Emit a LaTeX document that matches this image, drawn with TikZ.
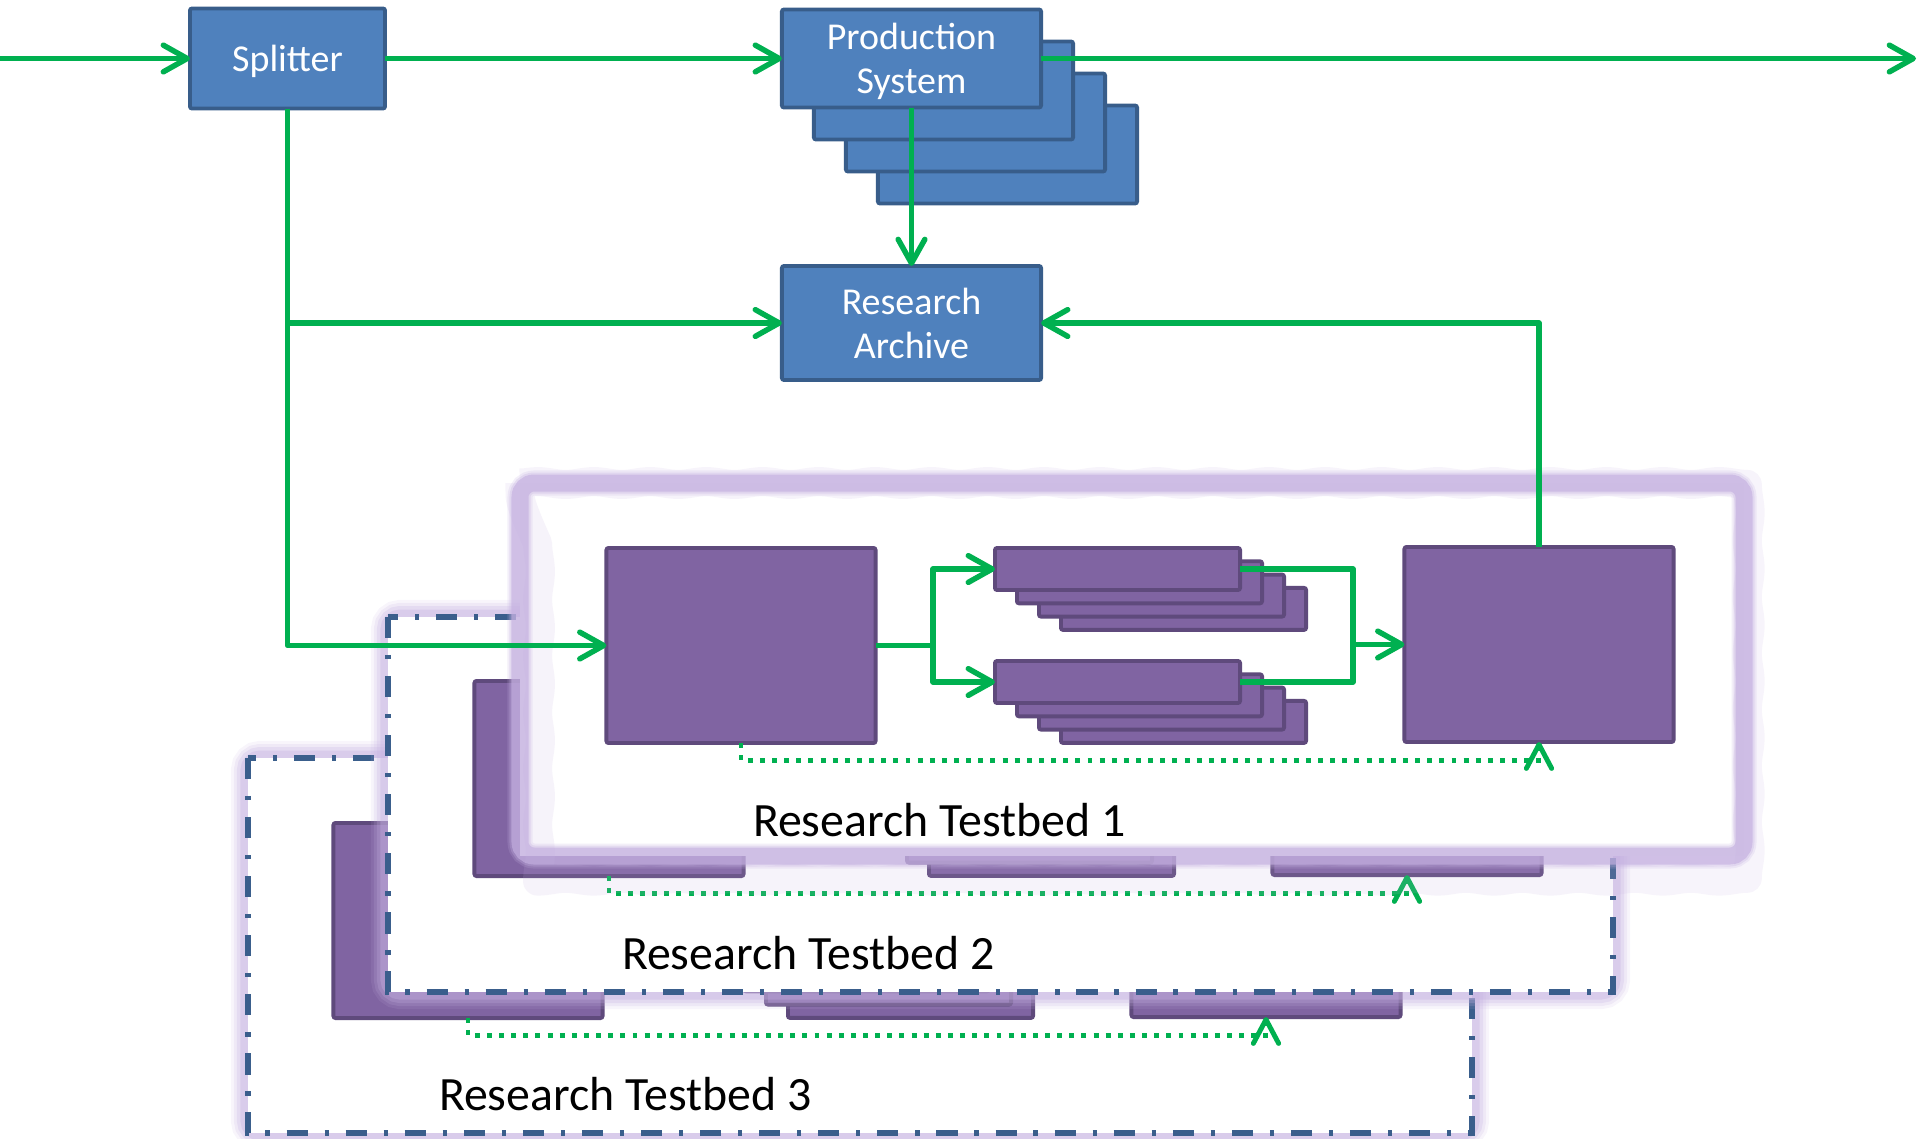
\documentclass[tikz,border=0pt]{standalone}
\usepackage{fontspec}
\setmainfont{Carlito}
\usetikzlibrary{arrows.meta,decorations.pathmorphing}

\definecolor{boxblue}{HTML}{4F81BD}
\definecolor{boxblueline}{HTML}{385D8A}
\definecolor{boxpurple}{HTML}{8064A2}
\definecolor{boxpurpleline}{HTML}{5F4A7C}
\definecolor{flowgreen}{HTML}{00B050}
\definecolor{glowlav}{RGB}{196,176,224}
\definecolor{framedash}{HTML}{3A5E8C}

\tikzset{
  every node/.style={outer sep=0pt},
  bluebox/.style={draw=boxblueline, fill=boxblue, line width=1.1pt, rounded corners=0.6pt,
    text=white, align=center, font=\fontsize{10.8}{12.6}\selectfont, inner sep=0pt, text depth=0pt},
  purplebox/.style={draw=boxpurpleline, fill=boxpurple, line width=1.1pt, rounded corners=0.6pt, inner sep=0pt},
  bigbox/.style={purplebox, minimum width=2.69cm, minimum height=1.95cm},
  workerbox/.style={purplebox, minimum width=2.45cm, minimum height=0.42cm},
  flow/.style={draw=flowgreen, line width=1.55pt, line join=round},
  flowarrow/.style={flow, -{Straight Barb[length=6.8pt,width=7.6pt,line cap=round,line join=round]}},
  feedback/.style={draw=flowgreen, line width=1.4pt, dash pattern=on 1.4pt off 2.05pt,
    -{Straight Barb[length=6.8pt,width=7.2pt,line cap=round,line join=round]}},
  tblabel/.style={anchor=base west, font=\fontsize{13.6}{16}\selectfont, inner sep=0pt},
  dashframe/.style={draw=framedash, line width=1.45pt, dash pattern=on 6pt off 4.8pt on 1.2pt off 4.8pt},
  fuzz/.style={decorate, decoration={snake, segment length=16pt, amplitude=0.4pt}},
}

% soft lavender halo around a frame rectangle
\newcommand\halo[4]{%
  \foreach \w/\o in {0.34/0.12, 0.28/0.18, 0.22/0.25, 0.15/0.35}
    \draw[glowlav, line width=\w cm, opacity=\o, rounded corners=0.12cm] (#1,#2) rectangle (#3,#4);
}

% boxes and flows of one testbed, node names prefixed with #1
\newcommand\tbcontents[1]{%
  \node[bigbox] (#1a) at (741,645.5) {};
  \foreach \k in {3,2,1} {
    \node[workerbox] (#1s1b\k) at ({1117.5+22*\k},{569+13.3*\k}) {};
  }
  \node[workerbox] (#1s1) at (1117.5,569) {};
  \foreach \k in {3,2,1} {
    \node[workerbox] (#1s2b\k) at ({1117.5+22*\k},{682+13.3*\k}) {};
  }
  \node[workerbox] (#1s2) at (1117.5,682) {};
  \node[bigbox] (#1c) at (1539,644.5) {};
  \coordinate (#1fork) at (933,645.5);
  \coordinate (#1join) at (1353,644.5);
  \coordinate (#1fb) at (741,760.5);
  \draw[flow] (#1a.east) -- (#1fork);
  \draw[flowarrow] (#1fork) |- (#1s1.west);
  \draw[flowarrow] (#1fork) |- (#1s2.west);
  \draw[flow] (#1s1.east) -| (#1join) |- (#1s2.east);
  \draw[flowarrow] (#1join) -- (#1c.west);
  \draw[feedback] (#1a.south) -- (#1fb) -| (#1c.south);
}

\begin{document}
\begin{tikzpicture}[x=0.01cm, y=-0.01cm]
\useasboundingbox (0,0) rectangle (1920,1139);

% ---- Research Testbed 3 ----
\halo{248}{758}{1472}{1133}
\fill[white] (248,758) rectangle (1472,1133);
\begin{scope}[shift={(-273,275)}]
  \tbcontents{tbc}
\end{scope}
\draw[dashframe] (248,758) rectangle (1472,1133);
\node[tblabel] (tbclabel) at (439,1110) {Research Testbed 3};

% ---- Research Testbed 2 ----
\halo{388}{617}{1613}{992}
\fill[white] (388,617) rectangle (1613,992);
\begin{scope}[shift={(-132,133)}]
  \tbcontents{tbb}
\end{scope}
\draw[dashframe] (388,617) rectangle (1613,992);
\node[tblabel] (tbblabel) at (622,969) {Research Testbed 2};

% ---- Research Testbed 1 (soft-edged frame) ----
\fill[white] (520,483) rectangle (1744,856);
\draw[glowlav, line width=0.29cm, opacity=0.14, line join=round, fuzz]
  (520,483) -- (1744,483) -- (1744,856) -- (520,856) -- cycle;
\foreach \w/\o in {0.25/0.2, 0.21/0.3}
  \draw[glowlav, line width=\w cm, opacity=\o, rounded corners=0.14cm] (520,483) rectangle (1744,856);
\draw[glowlav, line width=0.17cm, opacity=0.65, rounded corners=0.14cm] (520,483) rectangle (1744,856);
\tbcontents{tba}
\node[tblabel] (tbalabel) at (753,836) {Research Testbed 1};

% ---- production side ----
\node[bluebox, minimum width=1.95cm, minimum height=1.00cm] (split) at (287.5,58.5) {Splitter};
\foreach \k in {3,2,1} {
  \node[bluebox, minimum width=2.59cm, minimum height=0.98cm] (prodb\k) at ({911.5+32*\k},{58.5+32*\k}) {};
}
\node[bluebox, minimum width=2.59cm, minimum height=0.98cm] (prod) at (911.5,58.5) {Production\\System};
\node[bluebox, minimum width=2.59cm, minimum height=1.14cm] (arch) at (911.5,323) {Research\\Archive};

% ---- main data flows ----
\coordinate (inlet) at (0,58.5);
\coordinate (outlet) at (1916,58.5);
\coordinate (tap) at (287.5,323);
\draw[flowarrow] (inlet) -- (split.west);
\draw[flowarrow] (split.east) -- (prod.west);
\draw[flowarrow] (prod.east) -- (outlet);
\draw[flowarrow] (prod.south) -- (arch.north);
\draw[flowarrow] (split.south) |- (tbaa.west);
\draw[flowarrow] (tap) -- (arch.west);
\draw[flowarrow] (tbac.north) |- (arch.east);
\end{tikzpicture}
\end{document}
